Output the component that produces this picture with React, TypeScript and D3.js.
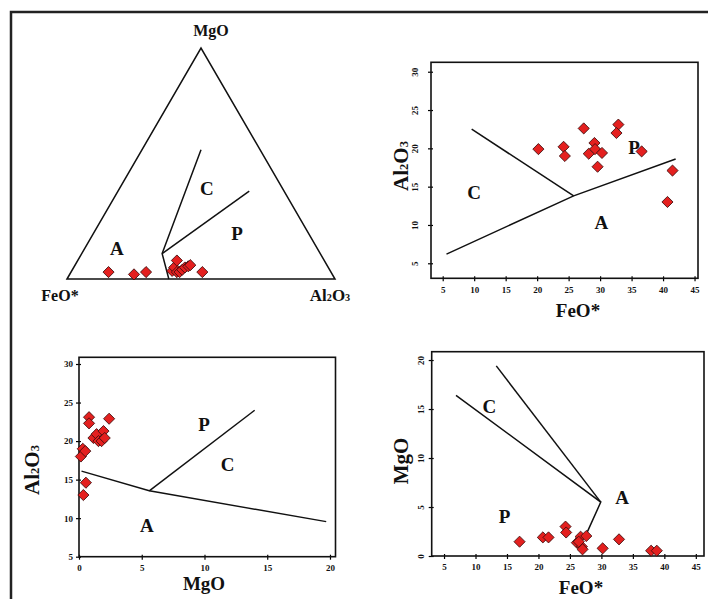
import { useEffect, useRef } from 'react'
import * as d3 from 'd3'

// ---- ternary FeO* - MgO - Al2O3, each sample as [FeO*, MgO, Al2O3] ----
const ternarySamples = [
  [83, 3, 14], [74, 2, 24], [69, 3, 28], [59, 3.5, 37.5], [57.5, 5, 37.5],
  [57.5, 3, 39.5], [55, 8, 37], [56.5, 3, 40.5], [55, 4, 41], [53.5, 5, 41.5],
  [52, 5.5, 42.5], [51, 6, 43], [48, 3, 49],
]
const ternaryBoundaries = [
  [[62, 0, 38], [59, 11, 30], [22, 56, 22]],
  [[59, 11, 30], [13, 38, 49]],
]
const ternaryFields = [
  { label: 'A', at: [74.7, 13.4, 11.9] },
  { label: 'C', at: [28.1, 39.4, 32.5] },
  { label: 'P', at: [26.6, 19.9, 53.5] },
]

// ---- Al2O3 vs FeO* ----
const feoA = [20.2, 24.2, 24.4, 27.4, 28.2, 29.1, 29.2, 30.3, 29.6, 32.9, 32.6, 36.6, 41.5, 40.7]
const al2o3A = [19.9, 20.2, 19.0, 22.6, 19.3, 20.7, 19.9, 19.4, 17.6, 23.1, 22.0, 19.6, 17.1, 13.0]
const linesA = [
  [[9.6, 22.5], [25.8, 13.8]],
  [[5.6, 6.2], [25.8, 13.8], [42.0, 18.6]],
]
const fieldsA = [
  { label: 'C', at: [10, 14.3] },
  { label: 'A', at: [30.2, 10.4] },
  { label: 'P', at: [35.4, 20.2] },
]

// ---- Al2O3 vs MgO ----
const mgoB = [0.8, 0.8, 2.4, 0.3, 0.15, 0.5, 1.15, 1.4, 1.55, 1.95, 1.8, 2.05, 0.55, 0.35]
const al2o3B = [23.1, 22.3, 22.9, 19.0, 18.0, 18.7, 20.4, 20.9, 20.0, 21.3, 20.0, 20.4, 14.6, 13.0]
const linesB = [
  [[0.2, 16.1], [5.6, 13.55], [19.7, 9.55]],
  [[5.6, 13.55], [14.0, 24.0]],
]
const fieldsB = [
  { label: 'P', at: [9.96, 22.2] },
  { label: 'C', at: [11.85, 17.0] },
  { label: 'A', at: [5.4, 9.1] },
]

// ---- MgO vs FeO* ----
const feoC = [17.0, 20.7, 21.6, 24.3, 24.4, 26.1, 26.7, 27.6, 26.9, 27.0, 30.2, 32.8, 37.9, 38.8, 26.4]
const mgoC = [1.46, 1.9, 1.9, 3.0, 2.4, 1.36, 1.97, 2.04, 0.95, 0.68, 0.78, 1.7, 0.54, 0.54, 1.46]
const linesC = [
  [[6.9, 16.4], [29.9, 5.5], [27.3, 1.8]],
  [[13.3, 19.4], [29.9, 5.5]],
]
const fieldsC = [
  { label: 'C', at: [12.2, 15.3] },
  { label: 'A', at: [33.3, 6.05] },
  { label: 'P', at: [14.6, 4.1] },
]

const feTicks = [5, 10, 15, 20, 25, 30, 35, 40, 45]
const alTicks = [5, 10, 15, 20, 25, 30]
const mgTicksX = [0, 5, 10, 15, 20]
const mgTicksY = [0, 5, 10, 15, 20]

const FONT = "'Liberation Serif', 'Times New Roman', serif"
const RED = '#e4201f'

// label text with small subscript digits, e.g. Al2O3
function formula(sel, txt, size) {
  const t = sel.append('text')
    .style('font-family', FONT)
    .style('font-weight', 'bold')
    .style('font-size', size + 'px')
    .attr('fill', '#111')
  txt.split(/(\d)/).filter((s) => s).forEach((s) => {
    const sub = /\d/.test(s)
    t.append('tspan')
      .style('font-size', sub ? size * 0.6 + 'px' : size + 'px')
      .text(s)
  })
  return t
}

function diamonds(g, pts) {
  const sym = d3.symbol().type(d3.symbolSquare).size(62)
  g.selectAll('.dot')
    .data(pts)
    .enter()
    .append('path')
    .attr('class', 'dot')
    .attr('d', sym)
    .attr('transform', (d) => `translate(${d[0]},${d[1]}) rotate(45)`)
    .attr('fill', RED)
    .attr('stroke', '#3b0c0c')
    .attr('stroke-width', 0.8)
}

function drawPanel(svg, cfg) {
  const x = d3.scaleLinear().domain(cfg.xDomain).range(cfg.xRange)
  const y = d3.scaleLinear().domain(cfg.yDomain).range(cfg.yRange)
  const g = svg.append('g')

  // x axis
  const xa = g.append('g')
    .attr('transform', `translate(0,${cfg.yRange[0]})`)
    .call(d3.axisBottom(x).tickValues(cfg.xTicks).tickSize(3).tickPadding(5))
  xa.select('.domain').remove()
  xa.selectAll('.tick line').attr('y1', -2).attr('stroke-width', 1.2)
  xa.selectAll('text')
    .style('font-family', FONT).style('font-weight', 'bold').style('font-size', '9px')
    .attr('fill', '#111')

  // y axis
  const ya = g.append('g')
    .attr('transform', `translate(${cfg.xRange[0]},0)`)
    .call(d3.axisLeft(y).tickValues(cfg.yTicks).tickSize(3).tickPadding(3))
  ya.select('.domain').remove()
  ya.selectAll('.tick line').attr('x1', 2).attr('stroke-width', 1.2)
  const yt = ya.selectAll('text')
    .style('font-family', FONT).style('font-weight', 'bold').style('font-size', '9px')
    .attr('fill', '#111')
  if (cfg.rotateY) {
    yt.attr('x', null).attr('dy', null)
      .attr('text-anchor', 'middle')
      .attr('transform', `translate(${-cfg.rotateY},0) rotate(-90)`)
  }

  // frame
  g.append('rect')
    .attr('x', cfg.xRange[0]).attr('y', cfg.yRange[1])
    .attr('width', cfg.xRange[1] - cfg.xRange[0])
    .attr('height', cfg.yRange[0] - cfg.yRange[1])
    .attr('fill', 'none').attr('stroke', '#111').attr('stroke-width', 1.6)

  // field boundaries
  const line = d3.line().x((d) => x(d[0])).y((d) => y(d[1]))
  cfg.lines.forEach((l) => {
    g.append('path').attr('d', line(l)).attr('fill', 'none')
      .attr('stroke', '#111').attr('stroke-width', 1.5)
  })

  // field labels
  cfg.fields.forEach((f) => {
    g.append('text')
      .attr('x', x(f.at[0])).attr('y', y(f.at[1])).attr('dy', '0.36em')
      .attr('text-anchor', 'middle')
      .style('font-family', FONT).style('font-weight', 'bold').style('font-size', '19px')
      .attr('fill', '#111')
      .text(f.label)
  })

  diamonds(g, cfg.xs.map((v, i) => [x(v), y(cfg.ys[i])]))

  // axis titles
  formula(g, cfg.xTitle, 19)
    .attr('x', cfg.xTitlePos[0]).attr('y', cfg.xTitlePos[1]).attr('dy', '0.36em')
    .attr('text-anchor', 'middle')
  formula(g, cfg.yTitle, 21)
    .attr('text-anchor', 'middle').attr('dy', '0.36em')
    .attr('transform', `translate(${cfg.yTitlePos[0]},${cfg.yTitlePos[1]}) rotate(-90)`)
}

function drawTernary(svg) {
  const g = svg.append('g')
  const xT = d3.scaleLinear().domain([0, 100]).range([67, 335])
  const yT = d3.scaleLinear().domain([0, 100]).range([279, 48])
  const proj = (d) => [xT(d[2] + d[1] / 2), yT(d[1])]

  const corners = [[100, 0, 0], [0, 100, 0], [0, 0, 100]]
  g.append('path')
    .attr('d', d3.line()(corners.map(proj)) + 'Z')
    .attr('fill', 'none').attr('stroke', '#111').attr('stroke-width', 1.5)

  ternaryBoundaries.forEach((b) => {
    g.append('path').attr('d', d3.line()(b.map(proj)))
      .attr('fill', 'none').attr('stroke', '#111').attr('stroke-width', 1.5)
  })

  ternaryFields.forEach((f) => {
    const p = proj(f.at)
    g.append('text')
      .attr('x', p[0]).attr('y', p[1]).attr('dy', '0.36em')
      .attr('text-anchor', 'middle')
      .style('font-family', FONT).style('font-weight', 'bold').style('font-size', '19px')
      .attr('fill', '#111')
      .text(f.label)
  })

  diamonds(g, ternarySamples.map(proj))

  formula(g, 'MgO', 16).attr('x', 211).attr('y', 30).attr('dy', '0.36em').attr('text-anchor', 'middle')
  formula(g, 'FeO*', 16).attr('x', 60).attr('y', 295).attr('dy', '0.36em').attr('text-anchor', 'middle')
  formula(g, 'Al2O3', 17).attr('x', 330).attr('y', 295).attr('dy', '0.36em').attr('text-anchor', 'middle')
}

const Charts = () => {
  const svgRef = useRef(null)

  useEffect(() => {
    const svg = d3.select(svgRef.current)
    svg.selectAll('*').remove()

    // outer frame (top and left edges)
    svg.append('path')
      .attr('d', 'M11,599 V12 H708')
      .attr('fill', 'none').attr('stroke', '#222').attr('stroke-width', 2.5)

    drawTernary(svg)

    drawPanel(svg, {
      xDomain: [3.14, 45.55], xRange: [431, 698],
      yDomain: [3.04, 31.23], yRange: [278.3, 62.3],
      xTicks: feTicks, yTicks: alTicks, rotateY: 13,
      xs: feoA, ys: al2o3A, lines: linesA, fields: fieldsA,
      xTitle: 'FeO*', xTitlePos: [578, 310],
      yTitle: 'Al2O3', yTitlePos: [400, 166],
    })

    drawPanel(svg, {
      xDomain: [0, 20.44], xRange: [79, 335.5],
      yDomain: [5, 30.87], yRange: [556.7, 357.3],
      xTicks: mgTicksX, yTicks: alTicks, rotateY: 0,
      xs: mgoB, ys: al2o3B, lines: linesB, fields: fieldsB,
      xTitle: 'MgO', xTitlePos: [204, 583],
      yTitle: 'Al2O3', yTitlePos: [31, 470],
    })

    drawPanel(svg, {
      xDomain: [3.04, 46.3], xRange: [431.7, 704],
      yDomain: [0, 20.85], yRange: [556, 351.7],
      xTicks: feTicks, yTicks: mgTicksY, rotateY: 8,
      xs: feoC, ys: mgoC, lines: linesC, fields: fieldsC,
      xTitle: 'FeO*', xTitlePos: [581, 587],
      yTitle: 'MgO', yTitlePos: [400, 461],
    })
  }, [])

  return (
    <svg
      ref={svgRef}
      width='708'
      height='599'
      style={{ position: 'absolute', left: 0, top: 0, background: '#fff' }}
    />
  )
}

export default function App() {
  return <Charts />
}
